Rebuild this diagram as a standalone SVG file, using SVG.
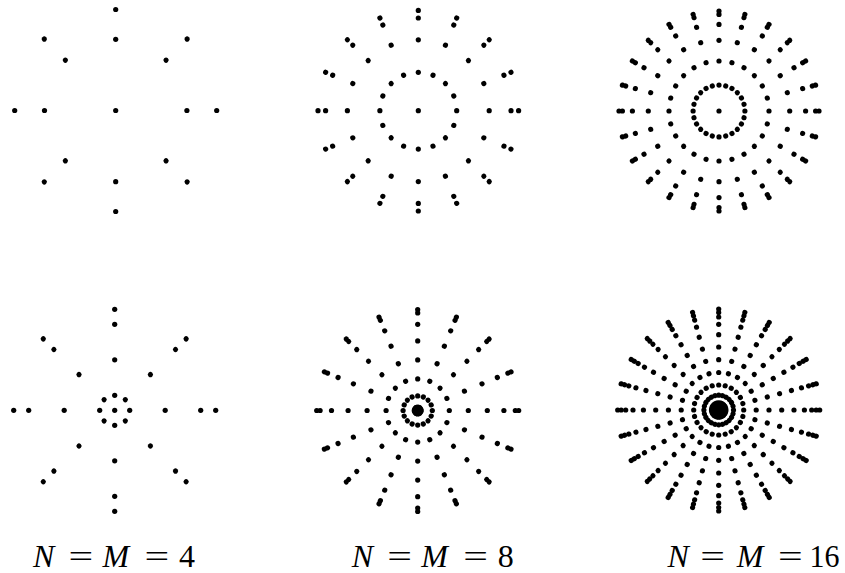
<svg xmlns="http://www.w3.org/2000/svg" width="845" height="573" viewBox="0 0 845 573">
<style>
  circle { fill: #000; }
  .it { font-style: italic; }
</style>
<defs>
  <g id="r1t"><circle cx="71.2" cy="0" r="2.6"/><circle cx="101" cy="0" r="2.6"/></g>
  <g id="r2t"><circle cx="38.4" cy="0" r="2.6"/><circle cx="70.9" cy="0" r="2.6"/><circle cx="92.7" cy="0" r="2.6"/><circle cx="100.3" cy="0" r="2.6"/></g>
  <g id="r3t"><circle cx="25.9" cy="0" r="2.6"/><circle cx="50" cy="0" r="2.6"/><circle cx="70.7" cy="0" r="2.6"/><circle cx="86.6" cy="0" r="2.6"/><circle cx="96.6" cy="0" r="2.6"/><circle cx="100" cy="0" r="2.6"/></g>
  <g id="r1b"><circle cx="15" cy="0" r="2.6"/><circle cx="50.5" cy="0" r="2.6"/><circle cx="86" cy="0" r="2.6"/><circle cx="101" cy="0" r="2.6"/></g>
  <g id="r2b"><circle cx="3.4" cy="0" r="2.6"/><circle cx="14.6" cy="0" r="2.6"/><circle cx="31.6" cy="0" r="2.6"/><circle cx="50.6" cy="0" r="2.6"/><circle cx="69.6" cy="0" r="2.6"/><circle cx="86.2" cy="0" r="2.6"/><circle cx="97.6" cy="0" r="2.6"/><circle cx="101" cy="0" r="2.6"/></g>
  <g id="r3b"><circle cx="3.2" cy="0" r="2.6"/><circle cx="7.2" cy="0" r="2.6"/><circle cx="14.8" cy="0" r="2.6"/><circle cx="25" cy="0" r="2.6"/><circle cx="37.5" cy="0" r="2.6"/><circle cx="50.3" cy="0" r="2.6"/><circle cx="63" cy="0" r="2.6"/><circle cx="75.3" cy="0" r="2.6"/><circle cx="85.7" cy="0" r="2.6"/><circle cx="93" cy="0" r="2.6"/><circle cx="97.5" cy="0" r="2.6"/><circle cx="101" cy="0" r="2.6"/></g>
</defs>

<g id="panel-4-top" transform="translate(115.7,110.5)">
  <circle cx="0" cy="0" r="2.6"/>
  <use href="#r1t"/><use href="#r1t" transform="rotate(45)"/><use href="#r1t" transform="rotate(90)"/><use href="#r1t" transform="rotate(135)"/>
  <use href="#r1t" transform="rotate(180)"/><use href="#r1t" transform="rotate(225)"/><use href="#r1t" transform="rotate(270)"/><use href="#r1t" transform="rotate(315)"/>
</g>

<g id="panel-8-top" transform="translate(418.3,110.7)">
  <circle cx="0" cy="0" r="2.6"/>
  <use href="#r2t"/><use href="#r2t" transform="rotate(22.5)"/><use href="#r2t" transform="rotate(45)"/><use href="#r2t" transform="rotate(67.5)"/>
  <use href="#r2t" transform="rotate(90)"/><use href="#r2t" transform="rotate(112.5)"/><use href="#r2t" transform="rotate(135)"/><use href="#r2t" transform="rotate(157.5)"/>
  <use href="#r2t" transform="rotate(180)"/><use href="#r2t" transform="rotate(202.5)"/><use href="#r2t" transform="rotate(225)"/><use href="#r2t" transform="rotate(247.5)"/>
  <use href="#r2t" transform="rotate(270)"/><use href="#r2t" transform="rotate(292.5)"/><use href="#r2t" transform="rotate(315)"/><use href="#r2t" transform="rotate(337.5)"/>
</g>

<g id="panel-16-top" transform="translate(719,111)">
  <circle cx="0" cy="0" r="2.6"/>
  <use href="#r3t"/><use href="#r3t" transform="rotate(15)"/><use href="#r3t" transform="rotate(30)"/><use href="#r3t" transform="rotate(45)"/>
  <use href="#r3t" transform="rotate(60)"/><use href="#r3t" transform="rotate(75)"/><use href="#r3t" transform="rotate(90)"/><use href="#r3t" transform="rotate(105)"/>
  <use href="#r3t" transform="rotate(120)"/><use href="#r3t" transform="rotate(135)"/><use href="#r3t" transform="rotate(150)"/><use href="#r3t" transform="rotate(165)"/>
  <use href="#r3t" transform="rotate(180)"/><use href="#r3t" transform="rotate(195)"/><use href="#r3t" transform="rotate(210)"/><use href="#r3t" transform="rotate(225)"/>
  <use href="#r3t" transform="rotate(240)"/><use href="#r3t" transform="rotate(255)"/><use href="#r3t" transform="rotate(270)"/><use href="#r3t" transform="rotate(285)"/>
  <use href="#r3t" transform="rotate(300)"/><use href="#r3t" transform="rotate(315)"/><use href="#r3t" transform="rotate(330)"/><use href="#r3t" transform="rotate(345)"/>
</g>

<g id="panel-4-bottom" transform="translate(114.7,410.3)">
  <circle cx="0" cy="0" r="2.6"/>
  <use href="#r1b"/><use href="#r1b" transform="rotate(45)"/><use href="#r1b" transform="rotate(90)"/><use href="#r1b" transform="rotate(135)"/>
  <use href="#r1b" transform="rotate(180)"/><use href="#r1b" transform="rotate(225)"/><use href="#r1b" transform="rotate(270)"/><use href="#r1b" transform="rotate(315)"/>
</g>

<g id="panel-8-bottom" transform="translate(417.7,410.5)">
  <circle cx="0" cy="0" r="2.6"/>
  <use href="#r2b"/><use href="#r2b" transform="rotate(22.5)"/><use href="#r2b" transform="rotate(45)"/><use href="#r2b" transform="rotate(67.5)"/>
  <use href="#r2b" transform="rotate(90)"/><use href="#r2b" transform="rotate(112.5)"/><use href="#r2b" transform="rotate(135)"/><use href="#r2b" transform="rotate(157.5)"/>
  <use href="#r2b" transform="rotate(180)"/><use href="#r2b" transform="rotate(202.5)"/><use href="#r2b" transform="rotate(225)"/><use href="#r2b" transform="rotate(247.5)"/>
  <use href="#r2b" transform="rotate(270)"/><use href="#r2b" transform="rotate(292.5)"/><use href="#r2b" transform="rotate(315)"/><use href="#r2b" transform="rotate(337.5)"/>
</g>

<g id="panel-16-bottom" transform="translate(718.7,410)">
  <circle cx="0" cy="0" r="2.6"/>
  <use href="#r3b"/><use href="#r3b" transform="rotate(15)"/><use href="#r3b" transform="rotate(30)"/><use href="#r3b" transform="rotate(45)"/>
  <use href="#r3b" transform="rotate(60)"/><use href="#r3b" transform="rotate(75)"/><use href="#r3b" transform="rotate(90)"/><use href="#r3b" transform="rotate(105)"/>
  <use href="#r3b" transform="rotate(120)"/><use href="#r3b" transform="rotate(135)"/><use href="#r3b" transform="rotate(150)"/><use href="#r3b" transform="rotate(165)"/>
  <use href="#r3b" transform="rotate(180)"/><use href="#r3b" transform="rotate(195)"/><use href="#r3b" transform="rotate(210)"/><use href="#r3b" transform="rotate(225)"/>
  <use href="#r3b" transform="rotate(240)"/><use href="#r3b" transform="rotate(255)"/><use href="#r3b" transform="rotate(270)"/><use href="#r3b" transform="rotate(285)"/>
  <use href="#r3b" transform="rotate(300)"/><use href="#r3b" transform="rotate(315)"/><use href="#r3b" transform="rotate(330)"/><use href="#r3b" transform="rotate(345)"/>
</g>

<g id="labels" font-family="'Liberation Serif', 'DejaVu Serif', serif" font-size="32" fill="#000">
  <text y="567"><tspan class="it" x="33">N</tspan> <tspan x="68.5" textLength="24.7" lengthAdjust="spacingAndGlyphs">=</tspan> <tspan class="it" x="102.5">M</tspan> <tspan x="144.5" textLength="24.7" lengthAdjust="spacingAndGlyphs">=</tspan> <tspan x="179">4</tspan></text>
  <text y="567"><tspan class="it" x="351.7">N</tspan> <tspan x="387.2" textLength="24.7" lengthAdjust="spacingAndGlyphs">=</tspan> <tspan class="it" x="421.2">M</tspan> <tspan x="463.2" textLength="24.7" lengthAdjust="spacingAndGlyphs">=</tspan> <tspan x="497.7">8</tspan></text>
  <text y="567"><tspan class="it" x="667.4">N</tspan> <tspan x="700.2" textLength="24.7" lengthAdjust="spacingAndGlyphs">=</tspan> <tspan class="it" x="736.8">M</tspan> <tspan x="778" textLength="24.7" lengthAdjust="spacingAndGlyphs">=</tspan> <tspan x="809.5" textLength="30" lengthAdjust="spacingAndGlyphs">16</tspan></text>
</g>
</svg>
